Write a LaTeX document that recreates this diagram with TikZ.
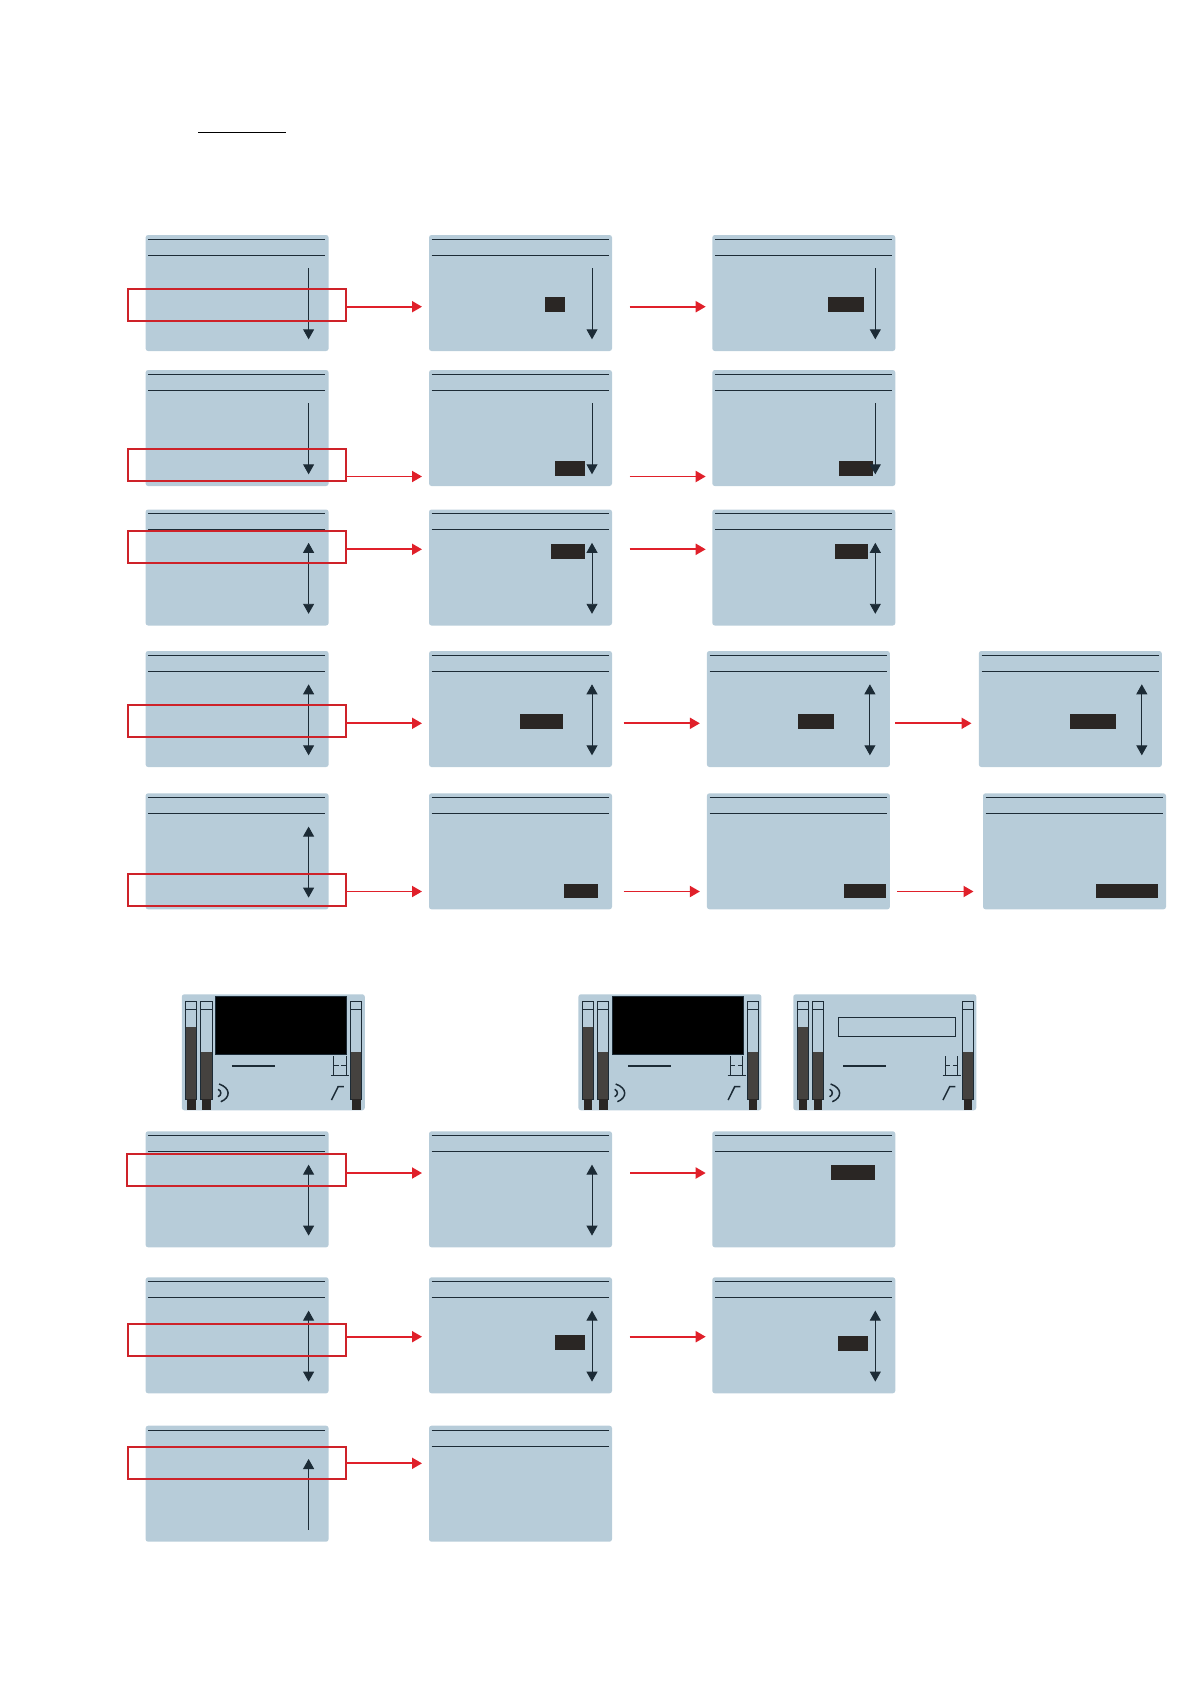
\documentclass[tikz,border=0pt]{standalone}
\usepackage{tikz}
\usetikzlibrary{arrows.meta,positioning}
\usepackage{xcolor}

\definecolor{lcdblue}{HTML}{B7CCD9}
\definecolor{lcdline}{HTML}{1C2B36}
\definecolor{lcdbar}{HTML}{45423F}
\definecolor{lcdfoot}{HTML}{2A2624}
\definecolor{markred}{HTML}{CE2229}
\definecolor{linkred}{HTML}{E0202A}

\tikzset{
  lcdscreen/.style={fill=lcdblue, rounded corners=2.5pt, anchor=north west, minimum width=183pt, minimum height=116pt, inner sep=0pt, outer sep=0pt},
  lcdrule/.style={draw=lcdline, line width=0.9pt},
  scrollup/.style={draw=lcdline, line width=0.9pt, {Triangle[width=11pt,length=10pt]}-},
  scrolldown/.style={draw=lcdline, line width=0.9pt, -{Triangle[width=11pt,length=10pt]}},
  scrollboth/.style={draw=lcdline, line width=0.9pt, {Triangle[width=11pt,length=10pt]}-{Triangle[width=11pt,length=10pt]}},
  valuebox/.style={fill=lcdfoot, minimum height=15pt, inner sep=0pt, outer sep=0pt},
  rowmark/.style={draw=markred, line width=2pt, minimum width=218pt, minimum height=32pt, inner sep=0pt, outer sep=0pt},
  redlink/.style={draw=linkred, line width=1.9pt, -{Triangle[width=11pt,length=10pt]}},
  blackpanel/.style={fill=black, draw=lcdline, line width=0.6pt, minimum width=131.5pt, minimum height=58pt, inner sep=0pt, outer sep=0pt},
  titlebar/.style={draw=lcdline, line width=0.9pt, minimum width=117.5pt, minimum height=19.5pt, inner sep=0pt, outer sep=0pt},
}

% plain screen with its two header rules
\newcommand{\lcdmenu}[3]{
  \node[lcdscreen] (#1) at (#2,#3) {};
  \draw[lcdrule] (#1.north west) ++(2.7,4.3) -- ++(177,0);
  \draw[lcdrule] (#1.north west) ++(2.7,20.3) -- ++(177,0);
}
\newcommand{\scrollmark}[2]{
  \path[#2] (#1.north west) ++(163,33.3) -- ++(0,71);
}
% level bar: left edge, top of the filled part
\newcommand{\levelbar}[3]{
  \fill[lcdbar] (#1.north west) ++(#2,#3) rectangle ++(11.3,105-#3);
  \draw[lcdline, line width=0.9pt] (#1.north west) ++(#2,7) rectangle ++(11.3,98);
  \draw[lcdline, line width=0.9pt] (#1.north west) ++(#2,15) -- ++(11.3,0);
  \fill[lcdfoot] (#1.north west) ++(#2+1.4,105) rectangle ++(8.8,10.7);
}
\newcommand{\lcdmeter}[3]{
  \node[lcdscreen] (#1) at (#2,#3) {};
  \levelbar{#1}{3.8}{33}
  \levelbar{#1}{18.9}{58}
  \levelbar{#1}{168.8}{58}
  \draw[lcdline, line width=1.8pt] (#1.north west) ++(50,71.4) -- ++(43,0);
  \draw[lcdline, line width=1.2pt] (#1.north west) ++(151.9,61.7) -- ++(0,19.7);
  \draw[lcdline, line width=1.2pt] (#1.north west) ++(164.3,61.7) -- ++(0,19.7);
  \draw[lcdline, line width=1.2pt] (#1.north west) ++(149.2,81.4) -- ++(18,0);
  \draw[lcdline, line width=1pt] (#1.north west) ++(151.9,71) -- ++(5,0);
  \draw[lcdline, line width=1pt] (#1.north west) ++(159.5,71) -- ++(4.8,0);
  \draw[lcdline, line width=1.5pt] (#1.north west) ++(37.3,89.7) .. controls +(11.7,4) and +(10,-4) .. ++(1.7,17.7);
  \draw[lcdline, line width=1.5pt] (#1.north west) ++(36.3,95) .. controls +(3.6,1.5) and +(3.6,-1.5) .. ++(0,7.4);
  \draw[lcdline, line width=1.5pt] (#1.north west) ++(149.7,105.7) -- ++(6.6,-13.3) -- ++(5.7,0);
}

\begin{document}
\begin{tikzpicture}[x=1pt,y=-1pt]
\useasboundingbox (0,0) rectangle (1191,1684);
\draw[black, line width=0.9pt] (198.3,132.3) coordinate (ulstart) -- (286,132.3) coordinate (ulend);

% arrow heights, one for each row
\coordinate (row1) at (0,306.7);
\coordinate (row2) at (0,476.5);
\coordinate (row3) at (0,549.3);
\coordinate (row4) at (0,723.3);
\coordinate (row5) at (0,891.5);
\coordinate (row6) at (0,1173);
\coordinate (row7) at (0,1336.7);
\coordinate (row8) at (0,1463.3);

% upper block
\lcdmenu{s11}{145.6}{235}
\lcdmenu{s12}{429}{235}
\lcdmenu{s13}{712.3}{235}
\lcdmenu{s21}{145.6}{370}
\lcdmenu{s22}{429}{370}
\lcdmenu{s23}{712.3}{370}
\lcdmenu{s31}{145.6}{509.5}
\lcdmenu{s32}{429}{509.5}
\lcdmenu{s33}{712.3}{509.5}
\lcdmenu{s41}{145.6}{651}
\lcdmenu{s42}{429}{651}
\lcdmenu{s43}{706.9}{651}
\lcdmenu{s44}{978.8}{651}
\lcdmenu{s51}{145.6}{793.3}
\lcdmenu{s52}{429}{793.3}
\lcdmenu{s53}{706.9}{793.3}
\lcdmenu{s54}{983}{793.3}

% meter screens
\lcdmeter{m1}{181.8}{994.3}
\lcdmeter{m2}{578.4}{994.3}
\lcdmeter{m3}{793.3}{994.3}
\node[blackpanel] (p1) at (281,1025.3) {};
\node[blackpanel] (p2) at (678,1025.3) {};
\node[titlebar] (t3) at (897,1027) {};

% lower block
\lcdmenu{s61}{145.6}{1131.3}
\lcdmenu{s62}{429}{1131.3}
\lcdmenu{s63}{712.3}{1131.3}
\lcdmenu{s71}{145.6}{1277.3}
\lcdmenu{s72}{429}{1277.3}
\lcdmenu{s73}{712.3}{1277.3}
\lcdmenu{s81}{145.6}{1425.7}
\lcdmenu{s82}{429}{1425.7}

% highlighted values
\node[valuebox, minimum width=20pt] (v12) at (555,304.5) {};
\node[valuebox, minimum width=36pt] (v13) at (846,304.5) {};
\node[valuebox, minimum width=30pt] (v22) at (570,468.5) {};
\node[valuebox, minimum width=34pt] (v23) at (856,468.5) {};
\node[valuebox, minimum width=34pt] (v32) at (568,551.5) {};
\node[valuebox, minimum width=33pt] (v33) at (851.5,551.5) {};
\node[valuebox, minimum width=42.6pt] (v42) at (541.3,721.5) {};
\node[valuebox, minimum width=35.8pt] (v43) at (816,721.5) {};
\node[valuebox, minimum width=46.6pt] (v44) at (1093,721.5) {};
\node[valuebox, minimum width=34pt, minimum height=14pt] (v52) at (580.6,891) {};
\node[valuebox, minimum width=42pt, minimum height=14pt] (v53) at (864.7,891) {};
\node[valuebox, minimum width=61.8pt, minimum height=14pt] (v54) at (1126.6,891) {};
\node[valuebox, minimum width=44pt] (v63) at (853,1172.5) {};
\node[valuebox, minimum width=30pt] (v72) at (570,1342.5) {};
\node[valuebox, minimum width=30pt] (v73) at (853,1343.5) {};

% scroll arrows
\scrollmark{s11}{scrolldown}
\scrollmark{s12}{scrolldown}
\scrollmark{s13}{scrolldown}
\scrollmark{s21}{scrolldown}
\scrollmark{s22}{scrolldown}
\scrollmark{s23}{scrolldown}
\scrollmark{s31}{scrollboth}
\scrollmark{s32}{scrollboth}
\scrollmark{s33}{scrollboth}
\scrollmark{s41}{scrollboth}
\scrollmark{s42}{scrollboth}
\scrollmark{s43}{scrollboth}
\scrollmark{s44}{scrollboth}
\scrollmark{s51}{scrollboth}
\scrollmark{s61}{scrollboth}
\scrollmark{s62}{scrollboth}
\scrollmark{s71}{scrollboth}
\scrollmark{s72}{scrollboth}
\scrollmark{s73}{scrollboth}
\scrollmark{s81}{scrollup}

% red row marks
\node[rowmark] (h1) at (236.5,305) {};
\node[rowmark] (h2) at (236.5,465) {};
\node[rowmark] (h3) at (236.5,546.7) {};
\node[rowmark] (h4) at (236.5,720.8) {};
\node[rowmark] (h5) at (236.5,890) {};
\node[rowmark, minimum width=219pt] (h6) at (236.8,1169.8) {};
\node[rowmark] (h7) at (236.5,1339.8) {};
\node[rowmark] (h8) at (236.5,1462.8) {};

% links
\draw[redlink, shorten >=7pt] (h1.east |- row1) -- (s12.west |- row1);
\draw[redlink, shorten <=17.6pt, shorten >=6.6pt] (s12.east |- row1) -- (s13.west |- row1);
\draw[redlink, shorten >=7pt] (h2.east |- row2) -- (s22.west |- row2);
\draw[redlink, shorten <=17.6pt, shorten >=6.6pt] (s22.east |- row2) -- (s23.west |- row2);
\draw[redlink, shorten >=7pt] (h3.east |- row3) -- (s32.west |- row3);
\draw[redlink, shorten <=17.6pt, shorten >=6.6pt] (s32.east |- row3) -- (s33.west |- row3);
\draw[redlink, shorten >=7pt] (h4.east |- row4) -- (s42.west |- row4);
\draw[redlink, shorten <=11.7pt, shorten >=7pt] (s42.east |- row4) -- (s43.west |- row4);
\draw[redlink, shorten <=5.5pt, shorten >=7.3pt] (s43.east |- row4) -- (s44.west |- row4);
\draw[redlink, shorten >=7pt] (h5.east |- row5) -- (s52.west |- row5);
\draw[redlink, shorten <=11.7pt, shorten >=7pt] (s52.east |- row5) -- (s53.west |- row5);
\draw[redlink, shorten <=7.5pt, shorten >=9.5pt] (s53.east |- row5) -- (s54.west |- row5);
\draw[redlink, shorten >=7pt] (h6.east |- row6) -- (s62.west |- row6);
\draw[redlink, shorten <=18pt, shorten >=6.6pt] (s62.east |- row6) -- (s63.west |- row6);
\draw[redlink, shorten >=7pt] (h7.east |- row7) -- (s72.west |- row7);
\draw[redlink, shorten <=17.6pt, shorten >=6.6pt] (s72.east |- row7) -- (s73.west |- row7);
\draw[redlink, shorten >=7pt] (h8.east |- row8) -- (s82.west |- row8);
\end{tikzpicture}
\end{document}
